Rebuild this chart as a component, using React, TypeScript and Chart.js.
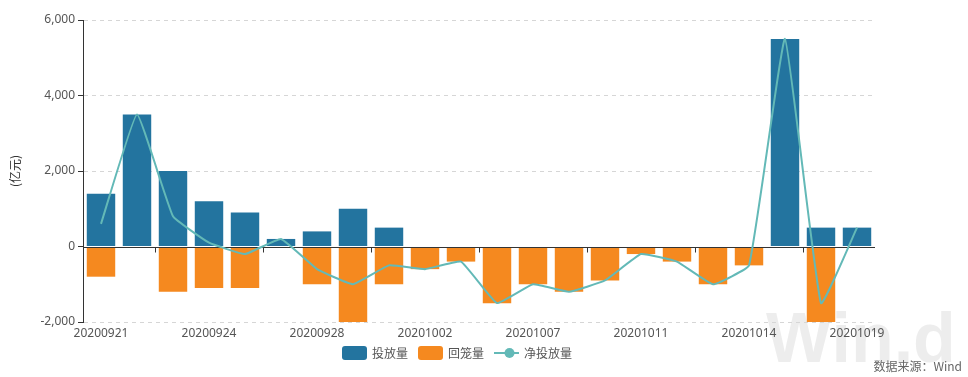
import React, { useEffect, useRef } from 'react';
import { Chart, registerables } from 'chart.js';

Chart.register(...registerables);

const dates = [
  '20200921', '20200922', '20200923', '20200924', '20200925', '20200927',
  '20200928', '20200929', '20200930', '20201002', '20201005', '20201006',
  '20201007', '20201008', '20201009', '20201011', '20201012', '20201013',
  '20201014', '20201015', '20201016', '20201019',
];
const injection = [1400, 3500, 2000, 1200, 900, 200, 400, 1000, 500, 0, 0, 0, 0, 0, 0, 0, 0, 0, 0, 5500, 500, 500];
const withdrawal = [-800, 0, -1200, -1100, -1100, 0, -1000, -2000, -1000, -600, -400, -1500, -1000, -1200, -900, -200, -400, -1000, -500, 0, -2000, 0];
const netInjection = [600, 3500, 800, 100, -200, 200, -600, -1000, -500, -600, -400, -1500, -1000, -1200, -900, -200, -400, -1000, -500, 5500, -1500, 500];

const seriesNames = ['投放量', '回笼量', '净投放量'];
const yMin = -2000;
const yMax = 6000;
const yStep = 2000;
const unitLabel = '(亿元)';
const sourceNote = '数据来源：Wind';
const watermarkText = 'Win.d';

const BLUE = '#23749f';
const ORANGE = '#f5891f';
const TEAL = '#63b9b7';
const AXIS = '#333333';
const TEXT = '#555555';
const CJK = '"Noto Sans CJK SC", "Noto Sans", sans-serif';
const LATIN = '"Noto Sans", "DejaVu Sans", sans-serif';

const decorPlugin = {
  id: 'decor',
  beforeDraw(chart: any) {
    const ctx = chart.ctx;
    ctx.save();
    ctx.font = `bold 70px "Liberation Sans", Arial, sans-serif`;
    ctx.fillStyle = 'rgba(215,215,215,0.45)';
    ctx.textAlign = 'left';
    ctx.textBaseline = 'alphabetic';
    ctx.fillText(watermarkText, 766, 362);
    ctx.restore();
  },
  beforeDatasetDraw(chart: any, args: any) {
    if (args.meta.type !== 'line') return;
    const ctx = chart.ctx;
    const y = chart.scales.y;
    const x = chart.scales.x;
    const area = chart.chartArea;
    const y0 = Math.round(y.getPixelForValue(0)) + 0.5;
    ctx.save();
    ctx.strokeStyle = AXIS;
    ctx.lineWidth = 1;
    ctx.beginPath();
    ctx.moveTo(area.left, y0);
    ctx.lineTo(area.right, y0);
    for (let i = 1; i < dates.length - 1; i += 3) {
      const bx = Math.round((x.getPixelForValue(i) + x.getPixelForValue(i + 1)) / 2) + 0.5;
      ctx.moveTo(bx, y0);
      ctx.lineTo(bx, y0 + 5);
    }
    ctx.stroke();
    ctx.restore();
  },
  afterDraw(chart: any) {
    const ctx = chart.ctx;
    ctx.save();
    // legend
    const colors = [BLUE, ORANGE, TEAL];
    ctx.font = `12px ${CJK}`;
    const sw = 25;
    const sh = 14;
    const gapText = 5;
    const gapItem = 10;
    const widths = seriesNames.map((n) => sw + gapText + ctx.measureText(n).width);
    const total = widths.reduce((a, b) => a + b, 0) + gapItem * (seriesNames.length - 1);
    let cx = 457 - total / 2;
    const cy = 353;
    seriesNames.forEach((name, i) => {
      if (i < 2) {
        ctx.fillStyle = colors[i];
        ctx.beginPath();
        (ctx as any).roundRect(cx, cy - sh / 2, sw, sh, 3);
        ctx.fill();
      } else {
        ctx.strokeStyle = colors[i];
        ctx.lineWidth = 2;
        ctx.beginPath();
        ctx.moveTo(cx, cy);
        ctx.lineTo(cx + sw, cy);
        ctx.stroke();
        ctx.fillStyle = colors[i];
        ctx.beginPath();
        ctx.arc(cx + sw / 2 + 3, cy, 5, 0, Math.PI * 2);
        ctx.fill();
      }
      ctx.fillStyle = TEXT;
      ctx.textAlign = 'left';
      ctx.textBaseline = 'middle';
      ctx.fillText(name, cx + sw + gapText, cy);
      cx += widths[i] + gapItem;
    });
    // source note
    ctx.font = `12px ${CJK}`;
    ctx.fillStyle = '#666666';
    ctx.textAlign = 'right';
    ctx.textBaseline = 'middle';
    ctx.fillText(sourceNote, 962, 366);
    ctx.restore();
  },
};

export default function App() {
  const ref = useRef<HTMLCanvasElement | null>(null);

  useEffect(() => {
    if (!ref.current) return;
    const chart = new Chart(ref.current, {
      type: 'bar',
      data: {
        labels: dates,
        datasets: [
          {
            type: 'line',
            label: seriesNames[2],
            data: netInjection,
            borderColor: TEAL,
            backgroundColor: TEAL,
            borderWidth: 2,
            pointRadius: 0,
            tension: 0.1,
            order: 0,
            stack: 'net',
          } as any,
          {
            label: seriesNames[0],
            data: injection,
            backgroundColor: BLUE,
            categoryPercentage: 0.79,
            barPercentage: 1,
            order: 1,
            stack: 'flow',
          },
          {
            label: seriesNames[1],
            data: withdrawal,
            backgroundColor: ORANGE,
            categoryPercentage: 0.79,
            barPercentage: 1,
            order: 1,
            stack: 'flow',
          },
        ],
      },
      options: {
        responsive: false,
        animation: false,
        devicePixelRatio: 1,
        layout: { padding: { top: 20, right: 93, left: 0, bottom: 0 } },
        plugins: {
          legend: { display: false },
          tooltip: { enabled: false },
        },
        scales: {
          x: {
            stacked: true,
            grid: { display: false, drawTicks: false },
            border: { display: false },
            ticks: {
              autoSkip: false,
              maxRotation: 0,
              padding: 4,
              color: TEXT,
              font: { family: LATIN, size: 12 },
              callback: (_v: any, i: number) => (i % 3 === 0 ? dates[i] : ''),
            },
            afterFit: (s: any) => {
              s.height = 55;
            },
          },
          y: {
            stacked: true,
            min: yMin,
            max: yMax,
            ticks: {
              stepSize: yStep,
              padding: 3,
              color: TEXT,
              font: { family: LATIN, size: 12 },
            },
            grid: {
              color: (c: any) => (c.tick && c.tick.value === 0 ? 'rgba(0,0,0,0)' : '#d6d6d6'),
              tickColor: AXIS,
              tickLength: 5,
              tickBorderDash: [],
            },
            border: {
              display: true,
              color: AXIS,
              width: 1,
              dash: [4, 4],
            },
            title: {
              display: true,
              text: unitLabel,
              color: AXIS,
              font: { family: CJK, size: 12 },
              padding: { top: 8, bottom: 0 },
            },
            afterFit: (s: any) => {
              s.width = 83;
            },
          },
        },
      },
      plugins: [decorPlugin],
    });
    return () => chart.destroy();
  }, []);

  return (
    <div style={{ position: 'fixed', left: 0, top: 0, width: 968, height: 377, background: '#fff' }}>
      <canvas ref={ref} width={968} height={377} style={{ display: 'block' }} />
    </div>
  );
}
